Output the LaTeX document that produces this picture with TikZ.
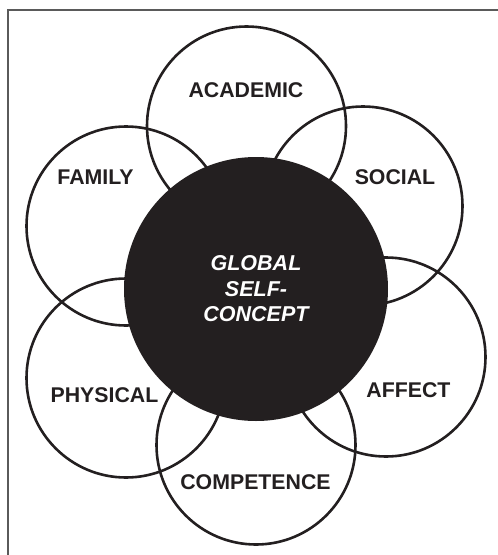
\documentclass[tikz,border=0pt]{standalone}
\usepackage{fontspec}
\setmainfont{Liberation Sans}
\definecolor{ink}{RGB}{35,31,32}
\definecolor{framecol}{RGB}{90,90,90}
\begin{document}
\begin{tikzpicture}[x=1pt,y=-1pt,
  ring/.style={circle,draw=ink,line width=2.6pt,inner sep=0pt,minimum size=199pt},
  core/.style={circle,fill=ink,draw=none,inner sep=0pt,minimum size=264pt},
  lab/.style={font=\fontsize{21.3}{24}\selectfont\bfseries,text=ink,inner sep=0pt},
  corelab/.style={font=\fontsize{21.5}{25.5}\selectfont\bfseries\itshape,text=white,align=center,inner sep=0pt}]
\useasboundingbox (0,0) rectangle (498,555);
\draw[framecol,line width=1.4pt] (8,560) -- (8,10) -- (503,10);
\node[ring] (academic) at (246.5,126) {};
\node[ring] (family) at (126,226) {};
\node[ring] (social) at (363,206) {};
\node[ring] (affect) at (386,357) {};
\node[ring] (physical) at (126,378) {};
\node[ring] (competence) at (256,445) {};
\node[core] (global) at (256,289) {};
\node[corelab] (globallab) at (global.center) {GLOBAL\\SELF-\\CONCEPT};
\node[lab] (tacademic) at (246,90.5) {ACADEMIC};
\node[lab] (tfamily) at (95.5,177.5) {FAMILY};
\node[lab] (tsocial) at (395,177) {SOCIAL};
\node[lab] (tphysical) at (104.5,395.5) {PHYSICAL};
\node[lab] (taffect) at (408.5,390) {AFFECT};
\node[lab] (tcompetence) at (255.5,482) {COMPETENCE};
\end{tikzpicture}
\end{document}
